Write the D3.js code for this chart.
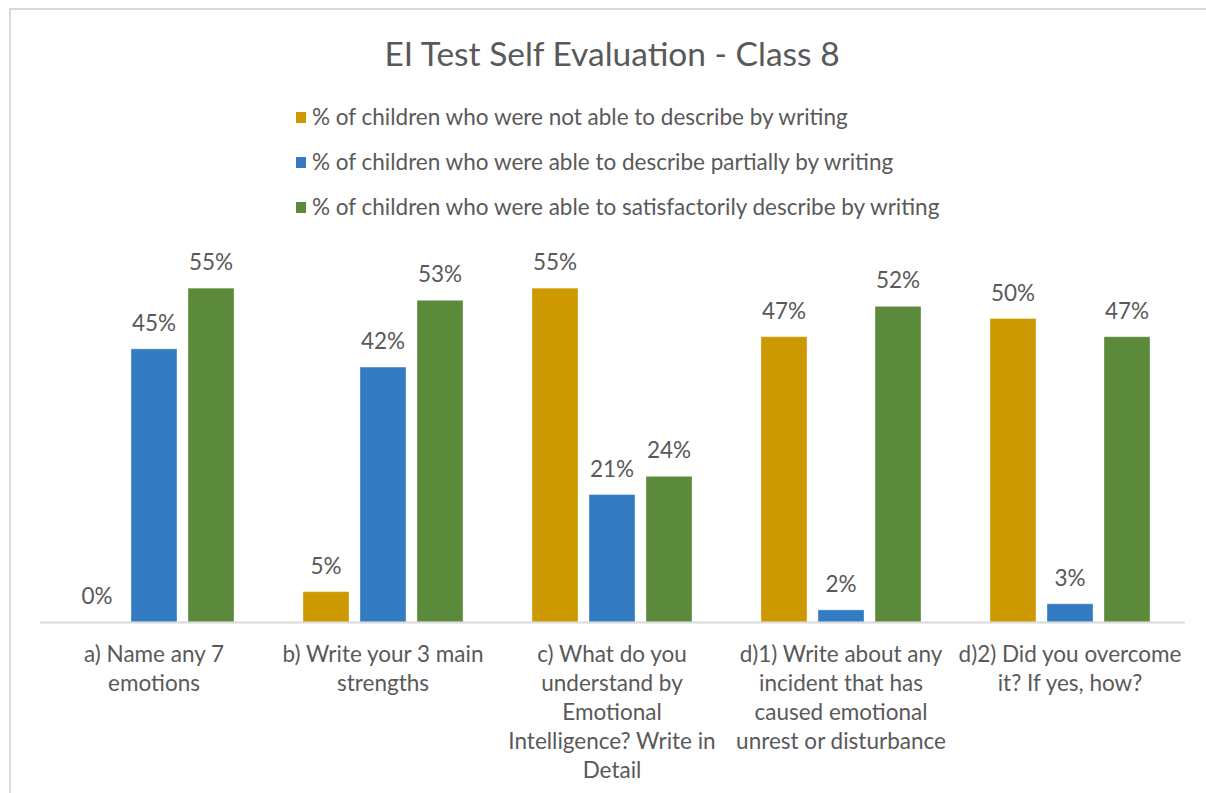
<!DOCTYPE html>
<html>
<head>
<meta charset="utf-8">
<script src="https://cdn.jsdelivr.net/npm/d3@7"></script>
<style>
  html, body { margin: 0; padding: 0; background: #fff; }
  svg { display: block; }
  text { font-family: Lato, "Open Sans", sans-serif; fill: #595959; }
</style>
</head>
<body>
<svg id="chart" width="1206" height="793"></svg>
<script>
// Questions asked in the self evaluation (line breaks as shown under the axis)
const categories = [
  "a) Name any 7\nemotions",
  "b) Write your 3 main\nstrengths",
  "c) What do you\nunderstand by\nEmotional\nIntelligence? Write in\nDetail",
  "d)1) Write about any\nincident that has\ncaused emotional\nunrest or disturbance",
  "d)2) Did you overcome\nit? If yes, how?"
];

const seriesNames = [
  "% of children who were not able to describe by writing",
  "% of children who were able to describe partially by writing",
  "% of children who were able to satisfactorily describe by writing"
];

// Percent of children per question
const notAble = [0, 5, 55, 47, 50];
const partially = [45, 42, 21, 2, 3];
const satisfactorily = [55, 53, 24, 52, 47];

const seriesColors = ["#cc9900", "#337cc2", "#5b8a3b"];
const seriesValues = [notAble, partially, satisfactorily];

const W = 1206, H = 793;
const svg = d3.select("#chart");
const labelSize = "22.5px";

// Chart frame
svg.append("path")
  .attr("d", `M10,${H} V9 H${W}`)
  .attr("fill", "none")
  .attr("stroke", "#d9d9d9")
  .attr("stroke-width", 2);

// Title
svg.append("text")
  .attr("x", 612).attr("y", 66)
  .attr("text-anchor", "middle")
  .style("font-size", "33.5px")
  .text("EI Test Self Evaluation - Class 8");

// Legend
const legend = svg.append("g");
seriesNames.forEach((name, i) => {
  const yy = 117 + i * 45;
  legend.append("rect")
    .attr("x", 296).attr("y", yy - 5)
    .attr("width", 10).attr("height", 11)
    .attr("fill", seriesColors[i]);
  legend.append("text")
    .attr("x", 312).attr("y", yy)
    .attr("dy", "0.35em")
    .style("font-size", labelSize)
    .text(name);
});

// Scales
const baseline = 622;
const x0 = d3.scaleBand().domain(d3.range(categories.length)).range([39.5, 1184.5]);
const x1 = d3.scaleBand().domain(d3.range(seriesNames.length))
  .range([0, x0.bandwidth()]).paddingInner(11 / 57).paddingOuter(0.605);
const y = d3.scaleLinear().domain([0, 60]).range([baseline, baseline - 60 * 6.07]);

// Bars
const groups = svg.append("g").selectAll("g")
  .data(categories.map((c, ci) => ({ ci })))
  .join("g")
  .attr("transform", d => `translate(${x0(d.ci)},0)`);

groups.selectAll("rect")
  .data(d => seriesValues.map((vals, si) => ({ si, v: vals[d.ci] })))
  .join("rect")
  .attr("x", d => x1(d.si))
  .attr("y", d => y(d.v))
  .attr("width", x1.bandwidth())
  .attr("height", d => y(0) - y(d.v))
  .attr("fill", d => seriesColors[d.si])
  .attr("stroke", "rgba(255,255,255,0.35)")
  .attr("stroke-width", 1);

// Value labels
groups.selectAll("text.val")
  .data(d => seriesValues.map((vals, si) => ({ si, v: vals[d.ci] })))
  .join("text")
  .attr("class", "val")
  .attr("text-anchor", "middle")
  .attr("x", d => x1(d.si) + x1.bandwidth() / 2)
  .attr("y", d => y(d.v) - 18)
  .style("font-size", labelSize)
  .text(d => d.v + "%");

// Category axis
const axis = svg.append("g")
  .attr("transform", `translate(0,${baseline})`)
  .call(d3.axisBottom(x0).tickSize(0).tickPadding(0).tickFormat(i => categories[i]));

axis.select(".domain").attr("stroke", "#d9d9d9").attr("stroke-width", 2);

axis.selectAll(".tick text").each(function(i) {
  const t = d3.select(this);
  const lines = categories[i].split("\n");
  t.text(null)
    .attr("y", 40).attr("dy", null)
    .attr("fill", "#595959")
    .style("font-family", "Lato, 'Open Sans', sans-serif")
    .style("font-size", labelSize)
    .attr("text-anchor", "middle");
  lines.forEach((ln, k) => {
    t.append("tspan").attr("x", 0).attr("y", 40 + k * 29).text(ln);
  });
});
</script>
</body>
</html>
